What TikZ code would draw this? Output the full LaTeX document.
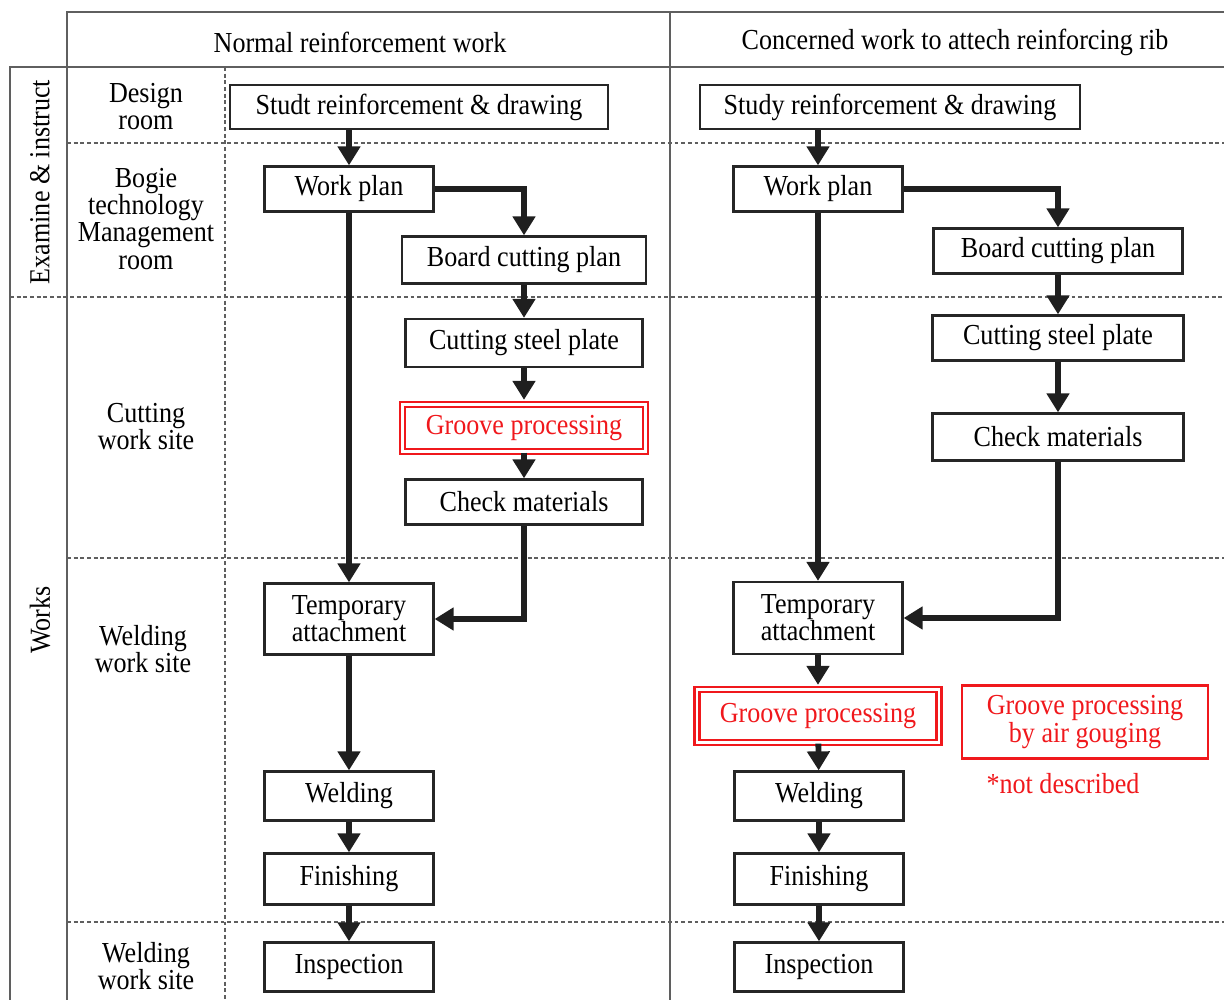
\documentclass[tikz,border=0pt]{standalone}
\usepackage{fontspec}
\setmainfont{Liberation Serif}[FakeStretch=0.9]
\usepackage{xcolor}
\usepackage{tikz}
\usetikzlibrary{arrows.meta}
\definecolor{grooveRed}{RGB}{240,24,28}
\definecolor{gridGray}{RGB}{95,95,95}
\newcommand{\flowfont}{\fontsize{16.5}{15.4}\selectfont}

\tikzset{
  taskbox/.style={draw=black!85, line width=1.3pt, inner sep=0pt, align=center,
    minimum width=3.38cm, minimum height=0.9cm},
  groovebox/.style={taskbox, draw=grooveRed, text=grooveRed, double=white, double distance=1.6pt},
  notebox/.style={taskbox, draw=grooveRed, text=grooveRed},
  flowarrow/.style={line width=3.3pt, black!88, -{Triangle[length=0.38cm,width=0.44cm]}},
  gridline/.style={gridGray, line width=0.6pt},
  dashgrid/.style={gridline, dash pattern=on 2.2pt off 1.6pt},
}

\begin{document}
\begin{tikzpicture}[x=0.02cm, y=-0.02cm, font=\flowfont]
	\useasboundingbox (0,0) rectangle (1224,1000);

	% Table frame
\draw[gridline] (67,1000) -- (67,12) -- (1224,12);
\draw[gridline] (10,1000) -- (10,67) -- (1224,67);
\draw[gridline] (670,12) -- (670,1000);
\draw[dashgrid] (225,67) -- (225,1000);
\draw[dashgrid] (10,297) -- (1224,297);
\foreach \y in {143,558,922} {
	\draw[dashgrid] (67,\y) -- (1224,\y);
}

	% Headers and row labels
\node (normalHead) at (360,42) {Normal reinforcement work};
\node (concernHead) at (955,42) {Concerned work to attech reinforcing rib};
\node[rotate=90] (examine) at (40,182) {Examine \& instruct};
\node[rotate=90] (works) at (40,620) {Works};
\node[align=center] (designRoom) at (146,107) {Design\\room};
\node[align=center] (bogieRoom) at (146,219) {Bogie\\technology\\Management\\room};
\node[align=center] (cuttingSite) at (146,427) {Cutting\\work site};
\node[align=center] (weldingSite) at (143,649) {Welding\\work site};
\node[align=center] (inspectSite) at (146,966) {Welding\\work site};

	% Normal reinforcement work
\node[taskbox, minimum width=7.56cm, minimum height=0.88cm] (studL) at (419,107) {Studt reinforcement \& drawing};
\node[taskbox] (planL) at (349,189) {Work plan};
\node[taskbox, minimum width=4.88cm, minimum height=0.94cm] (boardL) at (524,260) {Board cutting plan};
\node[taskbox, minimum width=4.74cm, minimum height=0.96cm] (steelL) at (524,343) {Cutting steel plate};
\node[groovebox, minimum width=4.86cm, minimum height=0.94cm] (grooveL) at (524,428) {Groove processing};
\node[taskbox, minimum width=4.74cm] (checkL) at (524,502) {Check materials};
\node[taskbox, minimum height=1.42cm] (tempL) at (349,619) {Temporary\\attachment};
\node[taskbox, minimum height=0.98cm] (weldL) at (349,796) {Welding};
\node[taskbox, minimum height=1.02cm] (finL) at (349,879) {Finishing};
\node[taskbox, minimum height=0.98cm] (inspL) at (349,967) {Inspection};

\draw[flowarrow] (studL.south -| planL.north) -- (planL.north);
\draw[flowarrow] (planL.east) -| (boardL.north);
\draw[flowarrow] (planL.south) -- (tempL.north);
\draw[flowarrow] (checkL.south) |- (tempL.east);
\draw[flowarrow, shorten >=0.07cm] (steelL) -- (grooveL);
\foreach \a/\b in {boardL/steelL, grooveL/checkL, tempL/weldL, weldL/finL, finL/inspL} {
	\draw[flowarrow] (\a) -- (\b);
}

	% Concerned work to attach reinforcing rib
\node[taskbox, minimum width=7.6cm, minimum height=0.88cm] (studR) at (890,107) {Study reinforcement \& drawing};
\node[taskbox] (planR) at (818,189) {Work plan};
\node[taskbox, minimum width=4.98cm] (boardR) at (1058,251) {Board cutting plan};
\node[taskbox, minimum width=5.02cm] (steelR) at (1058,338) {Cutting steel plate};
\node[taskbox, minimum width=5.02cm, minimum height=0.94cm] (checkR) at (1058,437) {Check materials};
\node[taskbox, minimum height=1.44cm] (tempR) at (818,618) {Temporary\\attachment};
\node[groovebox, minimum width=4.84cm, minimum height=1.06cm] (grooveR) at (818,716) {Groove processing};
\node[taskbox, minimum height=0.98cm] (weldR) at (819,796) {Welding};
\node[taskbox, minimum height=1.02cm] (finR) at (819,879) {Finishing};
\node[taskbox, minimum height=0.98cm] (inspR) at (819,967) {Inspection};
\node[notebox, minimum width=4.92cm, minimum height=1.46cm] (gougeR) at (1085,722) {Groove processing\\by air gouging};
\node[text=grooveRed] (noteR) at (1063,784) {*not described};

\draw[flowarrow] (studR.south -| planR.north) -- (planR.north);
\draw[flowarrow] (planR.east) -| (boardR.north);
\draw[flowarrow] (planR.south) -- (tempR.north);
\draw[flowarrow] (checkR.south) |- (tempR.east);
\draw[flowarrow, shorten >=0.07cm] (tempR.south) -- (grooveR.north);
\foreach \a/\b in {boardR/steelR, steelR/checkR, grooveR/weldR, weldR/finR, finR/inspR} {
	\draw[flowarrow] (\a) -- (\b);
}
\end{tikzpicture}
\end{document}
